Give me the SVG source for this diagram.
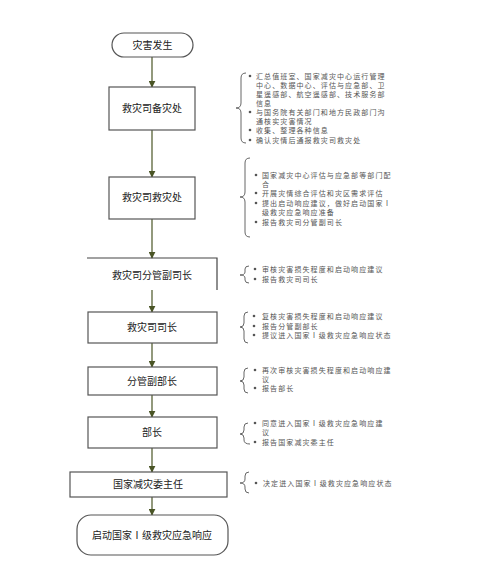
<svg xmlns="http://www.w3.org/2000/svg" width="483" height="571" viewBox="0 0 483 571">
<defs>
<marker id="ah" viewBox="0 0 10 10" refX="9" refY="5" markerWidth="7" markerHeight="7" markerUnits="userSpaceOnUse" orient="auto">
<path d="M0,0 L10,5 L0,10 z" fill="#4a5526"/>
</marker>
</defs>
<style>
.box{fill:#fff;stroke:#555;stroke-width:1.2}
.t{font-family:"Noto Sans CJK SC","Noto Sans",sans-serif;font-size:10px;fill:#222;text-anchor:middle}
.s{font-family:"Noto Sans CJK SC","Noto Sans",sans-serif;font-size:7px;letter-spacing:1.1px;fill:#555}
.br{fill:none;stroke:#666;stroke-width:1}
.c{stroke:#4a5526;stroke-width:1.2;fill:none}
.dot{fill:#555}
</style>
<rect width="483" height="571" fill="#fff"/>
<g id="connectors">
<line class="c" x1="152" y1="57" x2="152" y2="87" marker-end="url(#ah)"/>
<line class="c" x1="152" y1="130" x2="152" y2="177" marker-end="url(#ah)"/>
<line class="c" x1="152" y1="219" x2="152" y2="258" marker-end="url(#ah)"/>
<line class="c" x1="152" y1="290" x2="152" y2="312" marker-end="url(#ah)"/>
<line class="c" x1="152" y1="343" x2="152" y2="367" marker-end="url(#ah)"/>
<line class="c" x1="152" y1="395" x2="152" y2="417" marker-end="url(#ah)"/>
<line class="c" x1="152" y1="448" x2="152" y2="472" marker-end="url(#ah)"/>
<line class="c" x1="152" y1="497" x2="152" y2="515" marker-end="url(#ah)"/>
</g>
<g id="n0">
<rect class="box" x="112" y="33" width="81" height="24" rx="12"/>
<text class="t" x="152.5" y="49">灾害发生</text>
</g>
<g id="n1">
<rect class="box" x="109" y="87" width="86" height="43"/>
<text class="t" x="152" y="112">救灾司备灾处</text>
<path class="br" d="M246,73 Q241,73 241,78 V103 Q241,108 236,108 Q241,108 241,113 V138 Q241,143 246,143"/>
<circle class="dot" cx="250" cy="76" r="1.3"/>
<text class="s" x="256" y="79">汇总值班室、国家减灾中心运行管理</text>
<text class="s" x="256" y="88">中心、数据中心、评估与应急部、卫</text>
<text class="s" x="256" y="97">星遥感部、航空遥感部、技术服务部</text>
<text class="s" x="256" y="106">信息</text>
<circle class="dot" cx="250" cy="112" r="1.3"/>
<text class="s" x="256" y="115">与国务院有关部门和地方民政部门沟</text>
<text class="s" x="256" y="124">通核实灾害情况</text>
<circle class="dot" cx="250" cy="130" r="1.3"/>
<text class="s" x="256" y="133">收集、整理各种信息</text>
<circle class="dot" cx="250" cy="140" r="1.3"/>
<text class="s" x="256" y="143">确认灾情后通报救灾司救灾处</text>
</g>
<g id="n2">
<rect class="box" x="109" y="177" width="86" height="42"/>
<text class="t" x="152" y="201">救灾司救灾处</text>
<path class="br" d="M250,158 Q245,158 245,163 V192 Q245,197 240,197 Q245,197 245,202 V232 Q245,237 250,237"/>
<circle class="dot" cx="256" cy="175" r="1.3"/>
<text class="s" x="262" y="178">国家减灾中心评估与应急部等部门配</text>
<text class="s" x="262" y="187">合</text>
<circle class="dot" cx="256" cy="193" r="1.3"/>
<text class="s" x="262" y="196">开展灾情综合评估和灾区需求评估</text>
<circle class="dot" cx="256" cy="203" r="1.3"/>
<text class="s" x="262" y="206">提出启动响应建议，做好启动国家Ⅰ</text>
<text class="s" x="262" y="215">级救灾应急响应准备</text>
<circle class="dot" cx="256" cy="222" r="1.3"/>
<text class="s" x="262" y="225">报告救灾司分管副司长</text>
</g>
<g id="n3">
<path d="M87,258 H217 V290" fill="none" stroke="#444" stroke-width="1.2"/>
<text class="t" x="152" y="279">救灾司分管副司长</text>
<path class="br" d="M249,266 Q245,266 245,269 V272 Q245,275 240,275 Q245,275 245,278 V280 Q245,283 249,283"/>
<circle class="dot" cx="255" cy="269" r="1.3"/>
<text class="s" x="262" y="272">审核灾害损失程度和启动响应建议</text>
<circle class="dot" cx="255" cy="279" r="1.3"/>
<text class="s" x="262" y="282">报告救灾司司长</text>
</g>
<g id="n4">
<rect class="box" x="88" y="312" width="129" height="31"/>
<text class="t" x="152" y="331">救灾司司长</text>
<path class="br" d="M248,312 Q244,312 244,316 V323 Q244,327 240,327 Q244,327 244,331 V339 Q244,343 248,343"/>
<circle class="dot" cx="254" cy="316" r="1.3"/>
<text class="s" x="262" y="319">复核灾害损失程度和启动响应建议</text>
<circle class="dot" cx="254" cy="326" r="1.3"/>
<text class="s" x="262" y="329">报告分管副部长</text>
<circle class="dot" cx="254" cy="335" r="1.3"/>
<text class="s" x="262" y="338">提议进入国家Ⅰ级救灾应急响应状态</text>
</g>
<g id="n5">
<rect class="box" x="88" y="367" width="129" height="28"/>
<text class="t" x="152" y="385">分管副部长</text>
<path class="br" d="M248,368 Q244,368 244,372 V377 Q244,381 240,381 Q244,381 244,385 V389 Q244,393 248,393"/>
<circle class="dot" cx="255" cy="370" r="1.3"/>
<text class="s" x="262" y="373">再次审核灾害损失程度和启动响应建</text>
<text class="s" x="262" y="381.5">议</text>
<circle class="dot" cx="255" cy="388" r="1.3"/>
<text class="s" x="262" y="391">报告部长</text>
</g>
<g id="n6">
<rect class="box" x="88" y="417" width="129" height="31"/>
<text class="t" x="152" y="436">部长</text>
<path class="br" d="M248,423 Q244,423 244,427 V430 Q244,434 240,434 Q244,434 244,438 V440 Q244,444 250,444"/>
<circle class="dot" cx="255" cy="423" r="1.3"/>
<text class="s" x="262" y="426">同意进入国家Ⅰ级救灾应急响应建</text>
<text class="s" x="262" y="434.5">议</text>
<circle class="dot" cx="255" cy="442" r="1.3"/>
<text class="s" x="262" y="445">报告国家减灾委主任</text>
</g>
<g id="n7">
<rect class="box" x="70" y="472" width="157" height="25"/>
<text class="t" x="148" y="488">国家减灾委主任</text>
<path class="br" d="M249,472 Q245,472 245,476 V479 Q245,483 240,483 Q245,483 245,487 V489 Q245,493 249,493"/>
<circle class="dot" cx="256" cy="483" r="1.3"/>
<text class="s" x="263" y="486">决定进入国家Ⅰ级救灾应急响应状态</text>
</g>
<g id="n8">
<rect class="box" x="77" y="515" width="151" height="40" rx="14"/>
<text class="t" x="152" y="539">启动国家Ⅰ级救灾应急响应</text>
</g>
</svg>
